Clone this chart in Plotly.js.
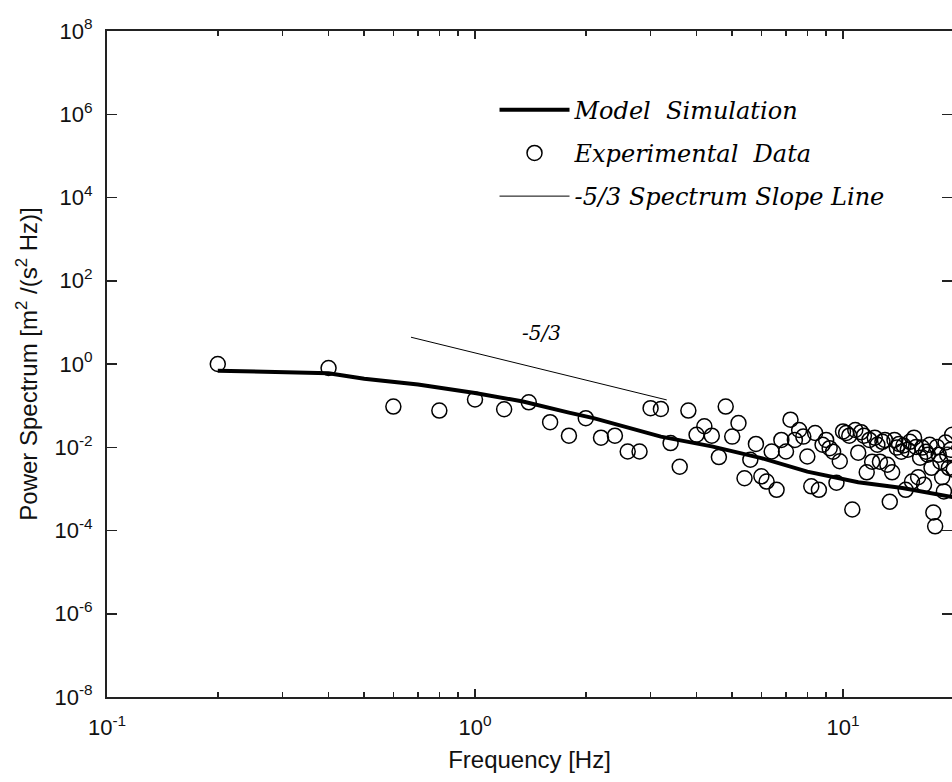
<!DOCTYPE html>
<html>
<head>
<meta charset="utf-8">
<script src="https://cdn.plot.ly/plotly-3.0.1.min.js"></script>
<style>html,body{margin:0;padding:0;background:#fff;overflow:hidden}#chart{width:952px;height:782px}</style>
</head>
<body>
<div id="chart"></div>
<script>
// Experimental data: frequency [Hz] and power spectrum values
const expFreq = [0.2,0.4,0.6,0.8,1.0,1.2,1.4,1.6,1.8,2.0,2.2,2.4,2.6,2.8,3.0,3.2,3.4,3.6,3.8,4.0,
  4.2,4.4,4.6,4.8,5.0,5.2,5.4,5.6,5.8,6.0,6.2,6.4,6.6,6.8,7.0,7.2,7.4,7.6,7.8,8.0,
  8.2,8.4,8.6,8.8,9.0,9.2,9.4,9.6,9.8,10.0,10.2,10.4,10.6,10.8,11.0,11.2,11.4,11.6,11.8,12.0,
  12.2,12.4,12.6,12.8,13.0,13.2,13.4,13.6,13.8,14.0,14.2,14.4,14.6,14.8,15.0,15.2,15.4,15.6,15.8,16.0,
  16.2,16.4,16.6,16.8,17.0,17.2,17.4,17.6,17.8,18.0,18.2,18.4,18.6,18.8,19.0,19.2,19.4,19.6,19.8,20.0];
const expPower = [1.0,0.80,0.095,0.076,0.14,0.082,0.12,0.040,0.019,0.050,0.017,0.019,0.0079,0.0079,0.087,0.083,0.0126,0.0034,0.076,0.020,
  0.032,0.019,0.0058,0.095,0.018,0.038,0.0018,0.0050,0.012,0.0020,0.0015,0.0079,0.00095,0.015,0.0079,0.046,0.015,0.026,0.018,0.0060,
  0.00115,0.022,0.00095,0.0115,0.015,0.0095,0.0078,0.0014,0.0046,0.024,0.022,0.019,0.00032,0.026,0.0074,0.023,0.019,0.0025,0.015,0.0045,
  0.017,0.0115,0.0045,0.0135,0.015,0.0038,0.00049,0.0025,0.015,0.0098,0.012,0.0078,0.011,0.00095,0.0087,0.0135,0.0015,0.017,0.0102,0.0019,
  0.0056,0.0098,0.00126,0.0078,0.0066,0.0115,0.0032,0.00027,0.000126,0.0102,0.0066,0.0045,0.0019,0.00087,0.013,0.0066,0.0032,0.0087,0.020,0.0029];

// Model simulation curve
const modelFreq  = [0.2,0.4,0.5,0.7,1.0,1.35,1.8,2.1,3.2,4.4,6.0,8.0,11.0,14.5,20.0];
const modelPower = [0.69,0.60,0.44,0.32,0.20,0.126,0.068,0.050,0.018,0.0105,0.0055,0.0026,0.00145,0.00105,0.00063];

// -5/3 spectrum slope line
const slopeFreq  = [0.67,3.32];
const slopePower = [4.4,0.137];

// Ticks and tick labels
const yTickVals  = [1e-8,1e-6,1e-4,1e-2,1,1e2,1e4,1e6,1e8];
const yTickText  = ['10<sup>-8</sup>','10<sup>-6</sup>','10<sup>-4</sup>','10<sup>-2</sup>','10<sup>0</sup>','10<sup>2</sup>','10<sup>4</sup>','10<sup>6</sup>','10<sup>8</sup>'];
const xTickVals  = [0.1,1,10];
const xTickText  = ['10<sup>-1</sup>','10<sup>0</sup>','10<sup>1</sup>'];
const xMinorVals = [0.2,0.3,0.4,0.5,0.6,0.7,0.8,0.9,2,3,4,5,6,7,8,9,20];

const sansFont = "Liberation Sans, Arial, sans-serif";
const serifFont = "DejaVu Serif, serif";
const xRange = [-1, 1.2962];

const traces = [
  {x: modelFreq, y: modelPower, type:'scatter', mode:'lines', name:'Model  Simulation',
   line:{color:'#000', width:4}, legendgroup:'a'},
  {x: expFreq, y: expPower, type:'scatter', mode:'markers', name:'Experimental  Data',
   marker:{symbol:'circle-open', size:15, color:'#000', line:{width:1.5, color:'#000'}}, legendgroup:'b'},
  {x: slopeFreq, y: slopePower, type:'scatter', mode:'lines', name:'-5/3 Spectrum Slope Line',
   line:{color:'#000', width:1}, legendgroup:'c'},
  // carrier for the minor-tick axis (draws nothing)
  {x: modelFreq, y: modelPower, type:'scatter', mode:'none', xaxis:'x2', showlegend:false, hoverinfo:'skip'}
];

const layout = {
  width:952, height:782,
  margin:{l:107, r:0, t:31, b:85},
  paper_bgcolor:'#fff', plot_bgcolor:'#fff',
  showlegend:true,
  legend:{x:0.4586, y:0.915, xanchor:'left', yanchor:'top', bgcolor:'rgba(0,0,0,0)', itemwidth:70,
    font:{family:serifFont, size:24, style:'italic', color:'#000'}, tracegroupgap:9, traceorder:'grouped'},
  xaxis:{type:'log', range:xRange, tickvals:xTickVals, ticktext:xTickText,
    showgrid:false, zeroline:false, showline:true, linecolor:'#222', linewidth:2, mirror:'ticks',
    ticks:'inside', ticklen:8, tickwidth:1.5, tickcolor:'#222',
    tickfont:{family:sansFont, size:22, color:'#111'}, ticklabelstandoff:10,
    title:{text:'Frequency [Hz]', font:{family:sansFont, size:24, color:'#111'}, standoff:12}},
  xaxis2:{type:'log', range:xRange, overlaying:'x', anchor:'y', side:'bottom', tickvals:xMinorVals,
    showgrid:false, zeroline:false, showline:false, showticklabels:false, mirror:'ticks',
    ticks:'inside', ticklen:5, tickwidth:1.5, tickcolor:'#222'},
  yaxis:{type:'log', range:[-8, 8], tickvals:yTickVals, ticktext:yTickText,
    showgrid:false, zeroline:false, showline:true, linecolor:'#222', linewidth:2, mirror:'ticks',
    ticks:'inside', ticklen:10, tickwidth:1.5, tickcolor:'#222',
    tickfont:{family:sansFont, size:22, color:'#111'}, ticklabelstandoff:8,
    title:{text:'Power Spectrum [m<sup>2</sup> /(s<sup>2</sup> Hz)]', font:{family:sansFont, size:24, color:'#111'}, standoff:10}},
  annotations:[
    {x:Math.log10(1.52), y:Math.log10(5.5), xref:'x', yref:'y', text:'-5/3', showarrow:false,
     font:{family:serifFont, size:20, style:'italic', color:'#000'}}
  ]
};

Plotly.newPlot('chart', traces, layout, {staticPlot:true, displayModeBar:false});
</script>
</body>
</html>
